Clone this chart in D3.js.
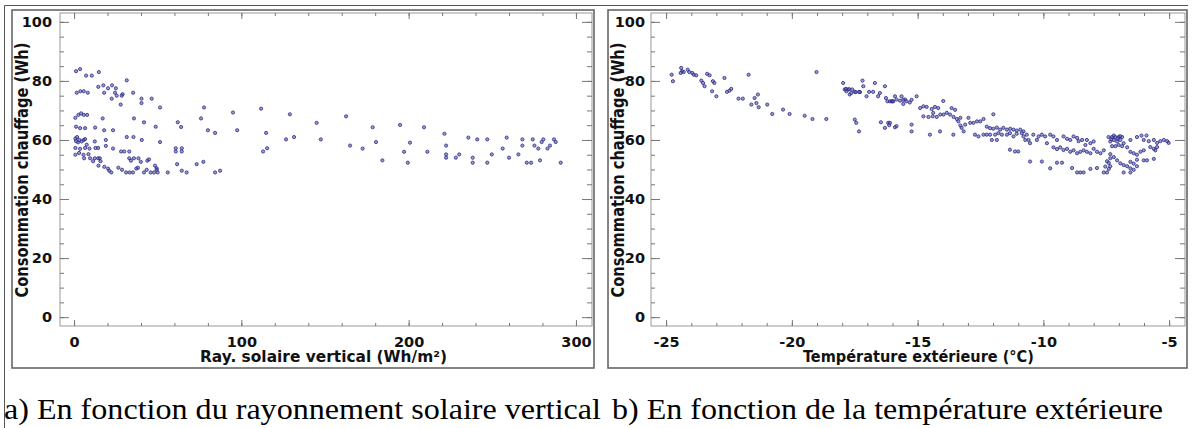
<!DOCTYPE html>
<html>
<head>
<meta charset="utf-8">
<script src="https://cdn.jsdelivr.net/npm/d3@7"></script>
<style>
body { margin: 0; background: #fff; }
</style>
</head>
<body>
<div id="chart"></div>
<script>
// [solar radiation (Wh/m²), heating consumption (Wh)]
const solarPoints = [
	[1.2,83.3],[3.6,84],[7.2,81.8],[10.6,81.8],[14.8,83],[31.5,80.2],
	[14.5,78],[17.5,78.5],[20.3,77.5],[22.7,78.5],[25,77.5],
	[1.6,76],[3.8,76.5],[5.8,76.5],[8.2,76],[18,76],[24.5,76],[29,75.5],[35.3,76],
	[22.5,74],[25.5,75],[28.5,75],[40.3,74],[40.3,72.5],[46.4,74],[27.9,72],[51.4,71],[77.7,71],
	[0.8,67.5],[2.6,68.5],[4.2,69],[5.8,68.5],[7.8,68.5],
	[17.1,67.3],[35.8,67.3],[41.8,66],[62,66],[64,64.4],[75.9,67.3],[95,69.3],[111.8,70.6],[129,68.7],
	[1.2,64.5],[3.6,64],[6.6,64],[12.6,64.2],[18,63.3],[23.3,63.3],[48.8,64.5],[80,63.3],[84.3,62.4],
	[97.5,63.3],[114.8,62.4],[126.7,60.2],[131.5,61],
	[0.8,60.5],[1.8,61],[3.2,60],[4.6,59.5],[5.8,60],[2.4,59.2],[1.2,59.6],[6.6,60.3],
	[12.4,59.5],[19,60],[19,58],[31.5,61],[35.5,61],[40.5,60],[51.4,59.3],
	[0.8,57.3],[3.6,57],[6.6,57.3],[9.2,57.1],[12.8,57.3],[14.4,57.3],[7.6,58.4],[23.3,57.1],
	[28.1,56.1],[30,56.1],[33,56.1],[60.8,57.2],[64.4,57.2],[60.8,56.1],[64.4,56.1],[113,56.1],[115.4,57.2],
	[0.8,55],[3,55.6],[5.6,55],[8.6,55.2],
	[6,53.8],[9.6,53.8],[12.4,53.8],[14.4,53.8],[15.4,53.8],[11.4,52.8],[15.8,52.8],
	[33,53.8],[34,53],[35.8,53.8],[38.5,53.8],[39.9,52.6],[43.8,53],[44.8,53.4],
	[48.4,51.3],[49.4,50.4],[61.6,51.8],[64.4,49.6],[73.3,51.8],[77.3,52.6],
	[14.6,51.3],[18.1,50.9],[20.3,50.3],[21,49.6],
	[22.3,49],[26.5,50.6],[28.7,49.9],[31.1,49],[33.2,49],[35.2,49],[37.2,50.3],[38.2,50.6],[41.8,49],
	[43.4,49.9],[45.8,49],[47.8,49],[49.4,49.9],[50,49],[56,49],[67.3,49],[84.3,49],[87.3,49.6],
	[145,65.8],[147.5,60.2],[162.6,68],[165,58.1],[172.5,57.1],[178.5,64.3],[180.5,59.3],[184.3,53.1],
	[194.9,65.1],[197.3,56],[199.5,52.3],[200.8,59.1],[209.2,64.3],[211.2,56],[221.4,62.1],[222.4,58.1],
	[222.4,55.1],[222.4,54],[228.2,54],[230.2,55.1],[235.7,60.8],[238.3,54],[238.3,52.3],[241,60.2],
	[247,60.2],[247,52.3],[249.7,55.1],[256.2,57.1],[258.6,60.8],[260,54],[265.6,55.1],[268,60.2],
	[268,58.1],[270.6,52.3],[273.2,52.3],[274.2,60.2],[275.2,58.1],[277.5,57.1],[278.5,53.1],[279.5,59.3],
	[280.5,60.2],[283,57.1],[284.5,58.1],[286.9,60.2],[287.9,59.3],[290.9,52.3]
];

// [outdoor temperature (°C), heating consumption (Wh)]
const tempPoints = [
	[-24.78,82.1],[-24.73,79.9],[-24.4,84.4],[-24.36,83.3],[-24.42,82.7],[-24.3,83],[-24.14,83.8],
	[-24.08,83],[-23.96,82.7],[-23.9,82.1],[-23.8,81.9],
	[-23.6,80.1],[-23.53,79.3],[-23.47,78.2],[-23.37,82.4],[-23.27,81.9],[-23.14,79.9],[-23.08,79.3],
	[-23.17,76.5],[-23,74.8],[-22.68,81],[-22.58,76.3],[-22.48,76.7],[-22.41,77.3],[-22.12,74],[-21.95,74],
	[-21.72,82.1],[-21.61,72],[-21.48,74.2],[-21.35,75.4],[-21.41,72.5],[-21.32,71.1],[-20.98,72],
	[-20.78,68.8],[-20.35,70.3],[-20.09,68.8],[-19.49,68.2],[-19.18,67.1],[-19.02,83],[-18.63,67.1],
	[-17.96,79.3],[-17.9,77.1],[-17.77,77.1],[-17.83,76.5],[-17.7,75.4],[-17.64,75.9],[-17.5,76.3],
	[-17.85,77.3],[-17.72,77.2],[-17.6,77.1],[-17.46,76.2],[-17.29,76.2],
	[-17.33,76.3],[-17.19,80.1],[-17.16,78.2],[-17.03,74.8],[-16.93,76.3],[-16.77,76.3],[-16.7,79.3],
	[-16.57,74.8],[-16.5,75.9],[-16.3,78.2],[-16.26,74.2],[-16.2,73.1],[-16.1,73.1],[-16.03,73.1],
	[-16.0,73.1],[-15.97,73.1],[-15.9,74.8],[-15.84,73.7],[-15.7,73.3],[-15.57,72.2],[-15.5,73.7],
	[-17.5,66.9],[-17.44,65.8],[-17.33,62.9],[-16.46,66],[-16.3,64.1],[-16.17,65.8],[-16.13,65],[-15.9,64.3],
	[-15.64,74.8],[-15.57,73.6],[-15.44,73.1],[-15.31,72.7],[-15.24,73.6],[-15.04,74.8],
	[-16.1,65.8],[-15.84,64.7],[-15.24,65.2],[-15.24,62.9],
	[-14.9,70.8],[-14.77,71.4],[-14.64,71.2],[-14.44,70.5],[-14.38,69.2],[-14.31,71.2],[-14.18,70.8],
	[-14.77,68],[-14.57,67.8],[-14.4,68],[-14.24,67.8],[-14.1,68.6],[-13.97,68.6],[-13.84,69.2],
	[-13.71,68.6],[-13.57,67.8],[-13.44,67.1],[-13.3,67.5],
	[-13.98,73.2],[-13.65,70.8],[-13.51,70.2],[-14.51,61.8],[-14.11,62.9],[-13.58,61.8],
	[-13.38,66.3],[-13.3,64.9],[-13.25,64.1],[-13.17,62.9],[-13.11,65.2],
	[-12.98,67.5],[-12.91,65.8],[-12.78,65.8],[-12.64,66.3],[-12.51,66.3],[-12.38,67.1],
	[-12.72,61.8],[-12.58,61.2],[-12.38,61.8],[-12.25,61.8],
	[-12.25,64.5],[-12.12,64],[-11.99,63.8],[-11.85,64.2],[-11.72,63.5],[-11.59,64.1],[-11.45,63.5],
	[-11.32,63.8],[-11.19,63.5],[-11.06,63.2],[-10.92,63.5],[-10.79,62.9],
	[-11.99,68.7],[-12.12,61.8],[-11.92,61.8],[-11.79,62.3],[-11.65,61.8],[-12.05,60],[-11.85,60],
	[-11.45,61.8],[-11.33,62.3],[-11.19,61.2],[-11.06,62.1],[-11.33,56.7],[-11.13,56.1],[-11,56.1],
	[-10.86,62.3],[-10.79,61.2],[-10.66,61.8],[-10.72,60],[-10.59,60],[-10.53,58.9],
	[-10.4,61.8],[-10.26,60],[-10.19,61.2],[-10.06,61.8],[-9.93,61.2],[-9.86,58.9],[-9.73,61.8],
	[-9.6,61.2],[-9.46,60],
	[-10.53,52.7],[-10.06,52.7],[-9.73,50.4],[-9.46,52.3],[-9.26,52.3],
	[-9.6,57.5],[-9.46,56.9],[-9.33,57.5],[-9.2,56.6],
	[-9.2,61.2],[-9.06,60.4],[-8.93,60],[-8.8,61.2],[-8.66,60.7],[-8.6,59.6],[-8.46,60],[-8.33,58.3],
	[-9.06,57],[-8.93,56],[-8.8,56.5],[-8.66,55.5],[-8.53,56],[-8.4,56.5],[-8.27,56],[-8.13,55.5],
	[-8,57],[-7.87,56],[-7.73,55.5],[-7.6,56.5],
	[-8.86,50.5],[-8.66,49],[-8.53,49],[-8.4,49],[-8.13,50.2],[-7.87,50.5],[-7.6,49],[-7.47,49],
	[-7.4,50.2],[-7.34,51.1],[-8.27,60],[-8.13,58.9],[-8,59.5],
	[-7.41,61],[-7.27,61],[-7.14,61],[-7.01,61],[-6.87,61],[-7.34,59.5],[-7.2,60],[-7.07,59.5],
	[-6.94,60],[-6.81,58.9],[-7.27,57.9],[-7.14,57.9],[-7.01,58.3],[-6.87,57.9],
	[-7.2,61.5],[-7.05,60.5],[-6.95,61.3],[-7.3,60.3],
	[-7.34,55.2],[-7.2,54.2],[-7.07,53.1],[-6.94,52.1],[-6.81,51.5],[-6.67,51.1],[-6.54,50.4],
	[-6.41,49.9],[-6.28,51.1],[-7.47,52.8],[-7.4,52.2],[-7.54,51],[-7.34,53.8],
	[-6.67,57.5],[-6.54,56],[-6.41,55.5],[-6.28,55],[-6.14,56],[-6.01,56.5],
	[-6.54,60],[-6.28,61],[-6.01,60],[-5.81,59.6],[-5.61,60],[-5.48,59],[-5.35,59.6],[-5.21,60],
	[-5.08,59.6],[-5.02,59],[-5.75,57.6],[-5.61,57],[-5.55,56.5],[-5.48,57.6],
	[-6.01,53.1],[-5.88,53.1],[-5.61,53.6],[-6.54,52.6],[-6.41,52],[-6.28,53.3],
	[-6.54,49],[-6.81,49],[-6.1,61.5],[-5.9,61.5]
];

const yTicks = [0, 20, 40, 60, 80, 100];
const solarTicks = [0, 100, 200, 300];
const tempTicks = [-25, -20, -15, -10, -5];
const yLabel = "Consommation chauffage (Wh)";
const solarLabel = "Ray. solaire vertical (Wh/m²)";
const tempLabel = "Température extérieure (°C)";
const captions = ["a) En fonction du rayonnement solaire vertical", "b) En fonction de la température extérieure"];

const W = 1192, H = 428;
const tickFont = "bold 14.5px 'DejaVu Sans', sans-serif";

const svg = d3.select("#chart").append("svg").attr("width", W).attr("height", H);

// table lines round the figure
svg.append("line").attr("x1", 4.5).attr("x2", 1188).attr("y1", 5.5).attr("y2", 5.5).attr("stroke", "#555");
svg.append("line").attr("x1", 4.5).attr("x2", 4.5).attr("y1", 5.5).attr("y2", H).attr("stroke", "#555");

const y = d3.scaleLinear().domain([-3, 103]).range([326, 13]);

const drawPanel = (p) => {
	const x = d3.scaleLinear().domain(p.xDomain).range([p.left, p.right]);
	const g = svg.append("g");

	g.append("rect")
		.attr("x", p.frame[0]).attr("y", p.frame[1])
		.attr("width", p.frame[2]).attr("height", p.frame[3])
		.attr("fill", "none").attr("stroke", "#666").attr("stroke-width", 1.6);

	g.append("rect")
		.attr("x", p.left).attr("y", y.range()[1])
		.attr("width", p.right - p.left).attr("height", y.range()[0] - y.range()[1])
		.attr("fill", "none").attr("stroke", "#999");

	const noDomain = (a) => a.select(".domain").remove();
	const fmt = (d) => String(d);

	// bottom + top
	g.append("g").attr("transform", `translate(0,${y.range()[0]})`)
		.call(d3.axisBottom(x).tickValues(p.minorX).tickSize(-3).tickFormat("")).call(noDomain);
	g.append("g").attr("transform", `translate(0,${y.range()[0]})`)
		.call(d3.axisBottom(x).tickValues(p.majorX).tickSize(-6).tickPadding(11).tickFormat(fmt)).call(noDomain);
	g.append("g").attr("transform", `translate(0,${y.range()[1]})`)
		.call(d3.axisTop(x).tickValues(p.minorX).tickSize(-3).tickFormat("")).call(noDomain);
	g.append("g").attr("transform", `translate(0,${y.range()[1]})`)
		.call(d3.axisTop(x).tickValues(p.majorX).tickSize(-6).tickFormat("")).call(noDomain);

	// left + right
	const minorY = d3.range(0, 101, 5);
	g.append("g").attr("transform", `translate(${p.left},0)`)
		.call(d3.axisLeft(y).tickValues(minorY).tickSize(-4).tickFormat("")).call(noDomain);
	g.append("g").attr("transform", `translate(${p.left},0)`)
		.call(d3.axisLeft(y).tickValues(yTicks).tickSize(-9).tickPadding(p.yPad).tickFormat(fmt)).call(noDomain);
	g.append("g").attr("transform", `translate(${p.right},0)`)
		.call(d3.axisRight(y).tickValues(minorY).tickSize(-5).tickFormat("")).call(noDomain);
	g.append("g").attr("transform", `translate(${p.right},0)`)
		.call(d3.axisRight(y).tickValues(yTicks).tickSize(-10).tickFormat("")).call(noDomain);

	g.selectAll(".tick line").attr("stroke", "#777");
	g.selectAll(".tick text").style("font", tickFont).attr("fill", "#111");

	g.append("g")
		.selectAll("circle")
		.data(p.data)
		.enter()
		.append("circle")
		.attr("cx", (d) => x(d[0]))
		.attr("cy", (d) => y(d[1]))
		.attr("r", 1.6)
		.attr("fill", "#5a5aa8")
		.attr("fill-opacity", 0.6)
		.attr("stroke", "#2a2a8a")
		.attr("stroke-width", 0.8);

	g.append("text")
		.attr("x", p.xTitle[0]).attr("y", 362)
		.attr("text-anchor", "middle")
		.attr("textLength", p.xTitle[1]).attr("lengthAdjust", "spacingAndGlyphs")
		.style("font", "bold 15px 'DejaVu Sans', sans-serif")
		.attr("fill", "#111")
		.text(p.xLabel);

	g.append("text")
		.attr("transform", `translate(${p.yTitleX},170) rotate(-90)`)
		.attr("text-anchor", "middle")
		.attr("textLength", 255).attr("lengthAdjust", "spacingAndGlyphs")
		.style("font", "bold 17px 'DejaVu Sans', sans-serif")
		.attr("fill", "#111")
		.text(yLabel);

	svg.append("text")
		.attr("x", p.caption[0]).attr("y", 419)
		.attr("textLength", p.caption[1]).attr("lengthAdjust", "spacingAndGlyphs")
		.style("font", "30px 'Liberation Serif', 'Times New Roman', serif")
		.attr("fill", "#000")
		.text(p.captionText);
};

drawPanel({
	data: solarPoints,
	xDomain: [-8.4, 309.6],
	left: 60, right: 592,
	frame: [12, 10, 582, 358],
	majorX: solarTicks,
	minorX: d3.range(0, 301, 20),
	yPad: 8,
	xLabel: solarLabel,
	xTitle: [323.5, 247],
	yTitleX: 28,
	caption: [4, 597],
	captionText: captions[0]
});

drawPanel({
	data: tempPoints,
	xDomain: [-25.6, -4.37],
	left: 651, right: 1185,
	frame: [608, 10, 579, 358],
	majorX: tempTicks,
	minorX: d3.range(-25, -4, 1),
	yPad: 6,
	xLabel: tempLabel,
	xTitle: [918.4, 231],
	yTitleX: 624,
	caption: [612, 551],
	captionText: captions[1]
});
</script>
</body>
</html>
